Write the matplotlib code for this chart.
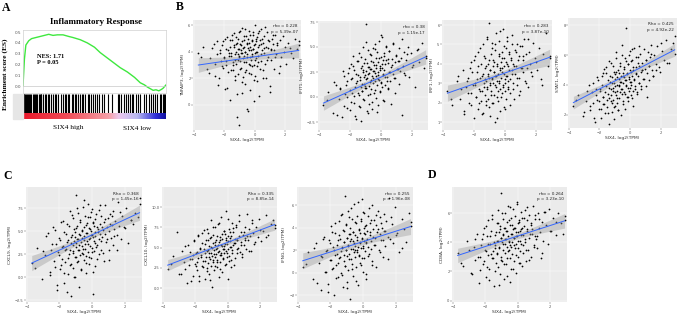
import numpy as np
import matplotlib
matplotlib.use("Agg")
import matplotlib.pyplot as plt
from matplotlib.colors import LinearSegmentedColormap

W, H = 680, 314
fig = plt.figure(figsize=(W / 100, H / 100), dpi=100)

SERIF = ["Liberation Serif", "DejaVu Serif"]

# ---------------- Panel A data (GSEA) ----------------
gsea_rank = [0, 0.01, 0.02, 0.04, 0.06, 0.09, 0.12, 0.15, 0.18, 0.21, 0.24, 0.28, 0.32,
             0.35, 0.40, 0.45, 0.50, 0.54, 0.58, 0.63, 0.68, 0.73, 0.78, 0.82, 0.85,
             0.87, 0.89, 0.91, 0.93, 0.95, 0.97, 0.98, 1.0]
gsea_es = [0, 0.25, 0.38, 0.42, 0.44, 0.45, 0.46, 0.47, 0.48, 0.47, 0.475, 0.475, 0.46,
           0.45, 0.43, 0.40, 0.36, 0.31, 0.27, 0.22, 0.17, 0.13, 0.08, 0.03, 0.01,
           -0.01, -0.025, -0.04, -0.035, -0.045, -0.03, -0.02, 0.01]
gsea_hits = [0.0, 0.005, 0.01, 0.015, 0.02, 0.028, 0.035, 0.045, 0.05, 0.064, 0.07, 0.076,
             0.088, 0.095, 0.104, 0.111, 0.118, 0.125, 0.135, 0.147, 0.159, 0.17, 0.18,
             0.19, 0.206, 0.218, 0.23, 0.242, 0.26, 0.277, 0.289, 0.30, 0.313, 0.32,
             0.336, 0.345, 0.36, 0.37, 0.379, 0.396, 0.408, 0.42, 0.431, 0.45, 0.46,
             0.474, 0.49, 0.5, 0.514, 0.53, 0.55, 0.562, 0.592, 0.62, 0.661, 0.67,
             0.687, 0.704, 0.72, 0.73, 0.744, 0.763, 0.77, 0.787, 0.8, 0.815, 0.846,
             0.86, 0.882, 0.895, 0.91, 0.925, 0.94, 0.957, 0.965, 0.976, 0.985, 0.995]
gsea_yticks = [0.0, 0.1, 0.2, 0.3, 0.4, 0.5]
gsea_title = "Inflammatory Response"
gsea_nes = "NES: 1.71"
gsea_p = "P = 0.05"

# ---------------- Scatter data (shared SIX4 x) ----------------
six4 = [-3.7, -3.4, -3.1, -2.9, -2.7, -2.6, -2.5, -2.4, -2.3, -2.2,
        -2.15, -2.1, -2.0, -1.95, -1.9, -1.85, -1.8, -1.75, -1.7, -1.65,
        -1.6, -1.55, -1.5, -1.45, -1.4, -1.38, -1.35, -1.3, -1.27, -1.25,
        -1.2, -1.18, -1.15, -1.12, -1.1, -1.07, -1.05, -1.02, -1.0, -0.98,
        -0.95, -0.93, -0.9, -0.88, -0.85, -0.83, -0.8, -0.78, -0.75, -0.73,
        -0.7, -0.68, -0.65, -0.63, -0.6, -0.58, -0.55, -0.53, -0.5, -0.48,
        -0.45, -0.43, -0.4, -0.38, -0.35, -0.33, -0.3, -0.28, -0.25, -0.22,
        -0.2, -0.17, -0.15, -0.12, -0.1, -0.07, -0.05, -0.02, 0.0, 0.03,
        0.05, 0.08, 0.1, 0.13, 0.15, 0.18, 0.2, 0.25, 0.3, 0.35,
        0.4, 0.45, 0.5, 0.55, 0.6, 0.7, 0.8, 0.9, 1.0, 1.1,
        1.2, 1.35, 1.5, 1.7, 2.0, 2.4, 2.9,
        -3.5, -3.0, -2.8, -2.6, -2.45, -2.35, -2.25, -2.15, -2.05, -1.98,
        -1.92, -1.86, -1.8, -1.74, -1.68, -1.62, -1.57, -1.52, -1.47, -1.42,
        -1.37, -1.32, -1.28, -1.24, -1.2, -1.16, -1.12, -1.08, -1.04, -1.0,
        -0.96, -0.92, -0.88, -0.84, -0.8, -0.76, -0.72, -0.68, -0.64, -0.6,
        -0.56, -0.52, -0.48, -0.44, -0.4, -0.36, -0.32, -0.28, -0.24, -0.2,
        -0.16, -0.12, -0.08, -0.04, 0.0, 0.04, 0.08, 0.12, 0.16, 0.2,
        0.24, 0.28, 0.32, 0.36, 0.4, 0.44, 0.48, 0.52, 0.56, 0.6,
        0.64, 0.68, 0.72, 0.76, 0.8, 0.85, 0.9, 0.95, 1.0, 1.05,
        1.1, 1.15, 1.2, 1.25, 1.3, 1.36, 1.42, 1.5, 1.58, 1.66,
        1.75, 1.85, 1.95, 2.05, 2.2, 2.35, 2.5, 2.65, 2.8, 2.9]

tnfaip3 = [3.9, 4.4, 2.7, 3.5, 4.6, 2.2, 3.8, 1.5, 4.1, 3.3,
           2.9, 4.8, 3.6, 1.2, 4.2, 3.0, 5.1, 2.5, 3.9, 4.4,
           0.4, 3.7, 4.9, 3.2, 2.6, 4.5, 5.4, 3.4, 1.9, 4.0,
           3.1, 4.7, -0.9, 3.8, 5.0, 2.3, 4.2, 3.6, -1.5, 4.6,
           3.3, 5.6, 2.8, 4.1, 3.9, 0.9, 4.8, 3.5, 2.1, 5.2,
           3.7, 4.4, 1.6, 4.0, 5.7, 3.2, 2.6, 4.6, 3.8, -0.3,
           4.3, 5.0, 3.1, 2.4, 4.7, 3.6, 5.3, 1.1, 4.1, 3.4,
           4.9, 2.9, 3.7, 5.5, 4.2, 0.3, 3.0, 4.5, 6.0, 3.9,
           2.2, 4.8, 3.5, 5.1, 4.0, 1.8, 4.4, 3.2, 5.6, 2.7,
           4.6, 3.8, 5.0, 2.0, 4.3, 5.9, 3.4, 4.9, 1.4, 4.1,
           5.3, 3.6, 4.7, 2.9, 4.4, 3.9, 4.5,
           3.6, 2.4, 4.3, 3.1, 4.8, 2.0, 3.9, 4.5, 2.8, 3.5,
           5.0, 3.3, 1.3, 4.1, 3.7, 4.9, 2.6, 3.9, 5.3, 3.0,
           4.4, 2.2, 3.8, 5.1, 4.6, 0.8, 3.4, 4.2, 5.5, 3.7,
           2.7, 4.5, 3.9, 5.8, 1.7, 4.3, 3.2, 4.9, 4.0, 2.5,
           5.2, 3.6, 4.7, -0.5, 4.1, 5.6, 3.0, 4.4, 2.3, 4.8,
           3.8, 5.3, 4.2, 1.9, 4.6, 3.4, 5.0, 4.0, 2.9, 5.4,
           3.7, 4.5, 0.7, 4.9, 3.3, 5.7, 4.1, 2.6, 4.7, 3.9,
           5.2, 3.1, 4.4, 2.0, 5.5, 4.3, 3.6, 4.8, 1.0, 4.2,
           3.4, 5.0, 4.6, 2.7, 4.1, 5.3, 3.8, 4.5, 2.4, 4.9,
           3.6, 5.2, 4.0, 3.1, 4.7, 4.3, 3.5, 5.0, 4.2, 4.8]
ifit1 = [-0.8, 0.5, -1.6, 1.2, -0.2, 0.9, -2.0, 2.1, 0.3, 1.6,
         -1.1, 2.4, 0.7, 3.3, -0.5, 1.9, 4.1, 0.1, 2.7, -1.9,
         1.4, 3.6, 0.4, 2.2, -0.9, 4.4, 1.7, 2.9, -2.4, 1.0,
         3.1, 0.6, 2.5, 5.0, 1.3, -0.3, 2.0, 3.8, 0.9, 7.3,
         1.8, 2.6, -1.4, 3.4, 0.2, 4.7, 2.3, 1.1, 3.0, -0.7,
         2.8, 1.5, 4.2, 0.8, 3.6, 2.1, -1.2, 4.9, 1.9, 2.6,
         0.4, 3.2, 5.3, 1.6, 2.4, -0.1, 3.9, 2.9, 1.2, 4.5,
         2.2, -0.8, 3.5, 1.7, 5.6, 2.7, 0.6, 3.1, 4.0, 1.4,
         2.9, 6.0, 1.0, 3.7, 2.3, -0.4, 4.4, 2.0, 3.3, 5.1,
         1.6, 3.8, 0.9, 4.6, 2.5, 3.2, 5.4, 1.9, 4.1, 2.8,
         3.6, 5.8, 2.4, 4.3, 3.0, 4.8, 3.9,
         -0.3, 1.5, -1.8, 0.8, 2.6, -0.9, 1.2, 0.0, 2.9, -1.3,
         1.8, 0.4, 3.1, -0.6, 1.0, 2.3, -2.2, 1.6, 3.6, 0.2,
         2.0, -1.0, 4.0, 1.3, 0.6, 2.7, -0.2, 3.4, 1.1, 2.2,
         5.5, 0.9, 1.9, -1.6, 3.0, 2.4, 0.3, 4.3, 1.7, 2.8,
         -0.5, 3.5, 1.4, 2.6, 4.8, 0.7, 2.1, 3.2, -1.5, 2.5,
         1.8, 3.9, 0.5, 2.9, 6.2, 1.5, 3.3, 2.2, -0.3, 4.1,
         2.7, 1.2, 3.7, 5.0, 2.0, 0.8, 3.4, 2.5, 4.6, 1.6,
         3.0, -0.7, 3.8, 2.3, 5.3, 1.9, 3.5, 0.4, 4.2, 2.8,
         3.6, 1.3, 4.9, 2.6, 3.9, -1.8, 3.1, 4.5, 2.2, 3.7,
         5.0, 2.0, 4.4, 3.2, 1.0, 4.7, 3.5, 5.4, 2.9, 4.1]
irf1 = [2.6, 1.9, 3.1, 2.2, 3.7, 1.4, 2.8, 3.3, 2.0, 4.1,
        2.5, 3.6, 1.2, 2.9, 4.4, 2.3, 3.2, 1.7, 3.9, 2.7,
        4.8, 2.1, 3.4, 2.6, 5.0, 1.5, 3.0, 3.8, 2.4, 4.3,
        3.1, 1.9, 5.3, 2.8, 3.5, 4.0, 2.2, 3.3, 6.1, 2.9,
        3.7, 1.3, 4.5, 2.6, 3.2, 5.1, 2.0, 3.9, 3.0, 4.2,
        2.4, 3.6, 1.0, 4.7, 3.4, 2.8, 5.6, 3.1, 2.3, 4.0,
        3.5, 2.1, 4.4, 3.0, 5.2, 2.7, 3.8, 1.6, 4.1, 3.3,
        2.5, 4.6, 3.6, 5.8, 2.9, 3.9, 1.8, 4.3, 3.2, 2.6,
        4.8, 3.4, 2.2, 4.0, 5.4, 3.1, 2.8, 4.5, 3.7, 1.9,
        4.2, 3.5, 5.0, 2.7, 3.9, 4.6, 3.3, 2.4, 4.9, 3.8,
        4.4, 3.0, 5.3, 3.6, 4.1, 2.9, 4.3,
        2.2, 3.4, 2.7, 1.6, 3.1, 2.5, 3.8, 1.9, 2.9, 4.2,
        3.0, 2.3, 3.6, 4.6, 2.0, 3.3, 2.6, 4.0, 1.4, 3.5,
        2.8, 4.4, 3.2, 2.1, 3.9, 5.4, 2.7, 3.4, 1.8, 4.2,
        3.0, 3.7, 2.4, 4.8, 3.3, 2.0, 4.1, 3.6, 2.9, 5.0,
        3.4, 1.2, 3.9, 2.6, 4.5, 3.1, 3.7, 5.7, 2.3, 3.8,
        4.3, 2.8, 3.5, 4.9, 3.0, 1.7, 4.1, 3.4, 5.2, 2.7,
        3.9, 4.6, 3.2, 2.5, 4.3, 3.7, 5.5, 3.0, 4.0, 2.2,
        4.7, 3.5, 3.9, 2.9, 5.0, 4.2, 3.3, 4.4, 2.6, 3.8,
        4.9, 3.6, 4.2, 5.3, 3.1, 4.5, 3.8, 2.8, 4.6, 4.0,
        3.4, 5.1, 4.3, 3.7, 4.8, 3.2, 4.5, 5.6, 3.9, 4.4]
stat1 = [2.6, 3.3, 1.9, 2.9, 4.0, 2.3, 3.5, 2.8, 1.5, 3.7,
         3.0, 4.3, 2.4, 3.6, 1.8, 4.6, 2.7, 3.2, 5.1, 2.1,
         3.9, 4.8, 2.5, 3.4, 5.6, 1.4, 3.1, 4.2, 2.9, 3.7,
         4.5, 2.2, 3.8, 5.3, 3.0, 4.1, 1.7, 4.7, 3.5, 2.6,
         4.9, 3.3, 6.2, 2.8, 4.0, 3.6, 5.0, 2.3, 4.4, 3.9,
         3.1, 5.5, 4.2, 2.0, 4.6, 3.7, 6.7, 3.4, 4.8, 2.7,
         4.1, 5.2, 3.5, 4.5, 2.4, 5.8, 3.9, 4.3, 7.8, 3.2,
         4.7, 3.8, 5.4, 2.9, 4.4, 6.0, 3.6, 5.0, 4.2, 3.3,
         5.6, 4.0, 3.1, 6.4, 4.6, 2.6, 5.2, 4.3, 3.7, 5.9,
         4.8, 3.5, 5.5, 4.1, 6.6, 3.9, 5.0, 4.4, 5.7, 3.2,
         5.3, 6.1, 4.6, 5.0, 6.8, 5.5, 7.3,
         3.0, 2.2, 3.6, 2.6, 4.1, 1.8, 3.3, 4.5, 2.9, 3.7,
         2.4, 4.0, 3.2, 4.8, 2.7, 3.5, 5.2, 3.0, 4.3, 2.1,
         3.8, 4.6, 3.3, 5.5, 2.8, 4.1, 3.6, 4.9, 2.5, 4.4,
         3.9, 5.8, 3.1, 4.5, 2.3, 4.8, 4.0, 5.3, 3.5, 4.2,
         6.0, 3.7, 4.6, 2.9, 5.1, 4.3, 3.4, 5.6, 4.0, 4.8,
         3.2, 5.4, 4.5, 6.3, 3.8, 4.9, 4.2, 5.7, 3.6, 5.0,
         4.4, 6.5, 3.9, 5.2, 4.7, 3.4, 5.9, 4.6, 5.3, 4.1,
         6.1, 4.9, 3.7, 5.5, 5.0, 4.4, 6.4, 5.1, 3.9, 5.7,
         4.8, 6.2, 5.3, 4.3, 5.9, 6.7, 5.0, 4.6, 6.0, 5.4,
         6.6, 5.2, 4.9, 6.3, 5.7, 7.0, 5.5, 6.4, 6.8, 6.1]
cxcl9 = [1.5, 3.2, -0.2, 2.4, 4.8, 0.6, 2.9, 5.5, 1.1, 3.6,
         -1.4, 2.7, 4.3, 0.9, 6.0, 2.0, 3.4, -0.6, 4.9, 1.7,
         3.1, 5.8, 0.3, 4.0, 2.5, 7.2, 1.3, 3.7, -2.0, 4.6,
         2.8, 6.4, 1.0, 3.9, 5.2, 0.0, 4.4, 2.2, 8.9, 3.3,
         5.6, 1.6, 4.1, 2.9, 7.0, 3.5, -1.1, 4.7, 2.4, 6.2,
         3.8, 0.8, 5.0, 4.3, 2.6, 7.6, 3.1, 4.5, 1.9, 5.4,
         3.6, 6.7, 2.3, 4.8, 0.4, 5.9, 3.9, 2.7, 8.0, 4.2,
         1.4, 5.3, 3.4, 6.5, 4.6, 2.1, 5.0, 3.2, 7.4, -1.8,
         4.4, 6.0, 2.8, 5.6, 3.7, 1.2, 4.9, 6.9, 3.5, 5.2,
         2.5, 4.7, 7.8, 3.9, 5.5, 1.8, 6.3, 4.1, 3.0, 5.8,
         6.6, 4.5, 2.9, 7.1, 5.3, 6.2, 7.9,
         1.0, 2.8, 4.5, 0.2, 3.6, 1.8, 5.1, -0.8, 2.4, 4.0,
         1.3, 3.3, 6.1, 0.5, 2.9, 4.7, -1.6, 3.8, 2.1, 5.6,
         3.0, 1.4, 4.4, 6.8, 2.6, 3.5, 0.0, 4.9, 2.2, 5.3,
         3.7, 7.5, 1.8, 4.2, 2.9, 6.0, 4.6, 0.9, 3.4, 5.1,
         2.5, 8.4, 4.0, 3.1, 5.7, 1.5, 4.8, 6.5, 3.6, 2.2,
         5.2, 4.3, 7.1, 2.7, 4.6, 0.6, 5.9, 3.9, 4.5, 6.3,
         3.3, 5.5, 2.0, 4.9, 7.3, 4.1, 5.8, 3.0, 6.6, 4.4,
         5.1, 2.6, 6.0, 4.7, 7.8, 3.8, 5.4, 6.4, 1.9, 5.0,
         6.9, 4.3, 5.7, 3.5, 7.2, 5.2, 6.1, 4.6, 8.2, 5.6,
         4.1, 6.7, 5.4, 7.5, 3.7, 6.2, 5.8, 7.0, 6.5, 8.6]
cxcl10 = [2.4, 4.0, 6.9, 1.8, 3.3, 5.2, 0.7, 2.9, 4.5, 3.6,
          1.5, 5.8, 3.0, 4.3, 2.2, 6.4, 3.7, 0.9, 5.0, 4.1,
          2.7, 6.8, 3.4, 4.9, 1.2, 5.5, 3.9, 7.3, 2.5, 4.6,
          5.9, 3.1, 1.7, 4.4, 6.2, 3.6, 8.4, 2.8, 5.1, 4.0,
          0.2, 5.6, 3.3, 6.6, 4.7, 2.3, 5.3, 7.6, 3.8, 4.2,
          6.0, 2.6, 5.0, 3.5, 7.9, 4.5, 1.4, 5.7, 4.1, 6.3,
          3.2, 5.4, 8.8, 4.4, 2.0, 6.1, 4.8, 3.6, 7.1, 5.2,
          4.3, 6.7, 2.9, 5.9, 4.6, 9.5, 3.9, 5.5, 1.1, 6.4,
          4.9, 7.3, 3.4, 5.8, 6.2, 2.6, 5.1, 8.1, 4.4, 6.9,
          5.6, 3.7, 7.5, 4.8, 6.0, 9.0, 5.3, 4.2, 7.0, 5.9,
          6.5, 4.6, 8.4, 5.7, 7.2, 6.3, 7.8,
          3.0, 1.8, 4.6, 2.4, 5.3, 3.6, 0.9, 4.1, 6.0, 2.8,
          4.5, 3.2, 6.6, 1.5, 4.8, 3.9, 5.6, 2.6, 7.2, 4.3,
          3.4, 5.9, 2.1, 4.7, 6.8, 3.8, 5.2, 1.0, 4.4, 6.3,
          5.0, 3.5, 7.6, 4.2, 2.7, 5.7, 4.9, 6.4, 3.3, 5.4,
          8.0, 4.6, 2.4, 5.9, 4.1, 6.7, 5.2, 3.7, 7.1, 4.8,
          5.5, 3.0, 6.2, 4.4, 8.6, 5.8, 4.0, 6.9, 5.1, 3.5,
          6.5, 4.7, 7.4, 5.3, 2.9, 6.1, 5.6, 7.8, 4.3, 6.0,
          5.0, 8.3, 6.4, 4.5, 7.0, 5.7, 3.9, 6.6, 5.3, 7.5,
          6.2, 4.8, 9.2, 5.9, 7.3, 6.5, 4.6, 8.0, 6.8, 5.5,
          7.6, 6.3, 8.5, 5.8, 7.1, 9.0, 6.6, 7.9, 8.4, 7.4]
ifng = [0.5, 1.8, -0.6, 2.6, 0.9, -1.5, 1.4, 3.2, 0.1, 2.0,
        -1.0, 2.9, 1.1, 4.1, 0.3, 2.3, -2.0, 1.6, 3.5, 0.7,
        2.5, -0.4, 4.6, 1.3, 3.0, 0.0, 1.9, 5.2, 2.2, -1.3,
        3.7, 1.0, 2.7, 6.8, 0.6, 2.0, 4.3, -0.8, 3.1, 1.5,
        2.4, 5.5, 0.2, 3.4, 1.7, -2.3, 2.8, 4.0, 1.2, 3.0,
        0.8, 4.8, 2.1, 3.6, -0.3, 2.6, 6.1, 1.4, 3.3, 2.0,
        4.4, 0.5, 2.9, 1.8, 5.0, 2.3, -1.1, 3.8, 1.6, 2.7,
        3.5, 0.9, 4.6, 2.2, 6.5, 1.3, 3.1, 2.4, 0.1, 4.0,
        2.8, 5.3, 1.9, 3.4, -0.6, 2.6, 4.2, 3.0, 1.5, 5.7,
        3.6, 2.1, 4.7, 0.7, 3.2, 2.5, 5.1, 3.9, 1.8, 4.4,
        2.9, 3.7, 1.2, 4.9, 3.3, 2.2, 4.1,
        0.8, 2.2, -0.9, 1.5, 3.0, 0.1, 1.9, -1.7, 2.6, 1.1,
        3.6, 0.4, 2.0, 4.4, -0.5, 1.7, 2.9, 0.9, 3.3, 1.4,
        5.1, 2.3, -0.2, 3.8, 1.6, 2.7, 0.6, 4.2, 2.0, 3.1,
        -1.4, 2.5, 4.9, 1.2, 3.4, 2.1, 5.7, 0.3, 2.8, 3.6,
        1.8, 4.5, 2.4, -0.7, 3.2, 2.0, 6.3, 1.5, 3.9, 2.6,
        4.8, 0.7, 3.0, 2.2, 5.4, 3.5, 1.3, 4.1, 2.7, -0.1,
        3.7, 2.3, 5.0, 1.7, 3.3, 4.4, 2.8, 6.0, 1.0, 3.9,
        2.5, 4.7, 3.1, 0.5, 4.2, 3.6, 5.5, 2.0, 3.4, 4.9,
        2.9, 4.0, 1.4, 5.2, 3.7, 2.4, 4.6, 3.2, 6.6, 3.0,
        4.3, 2.6, 5.8, 3.5, 1.8, 4.8, 3.9, 2.7, 5.3, 4.5]
cd8a = [3.3, 2.4, 4.1, 1.9, 3.7, 2.8, 4.6, 1.2, 3.0, 4.2,
        2.5, 5.0, 3.5, 1.6, 4.4, 3.1, 5.5, 2.2, 3.9, 4.8,
        2.9, 5.9, 3.4, 1.0, 4.5, 3.8, 2.6, 5.3, 4.1, 3.2,
        6.2, 2.3, 4.7, 3.6, 5.1, 1.8, 4.3, 3.0, 7.4, 4.0,
        2.7, 5.6, 3.9, 4.6, 1.5, 5.0, 3.3, 4.2, 6.0, 2.5,
        4.8, 3.7, 5.4, 2.9, 4.4, 6.5, 3.5, 4.1, 1.3, 5.2,
        3.8, 4.6, 2.2, 5.7, 4.0, 3.2, 6.3, 4.9, 2.7, 5.0,
        4.3, 3.6, 5.8, 1.9, 4.7, 3.9, 6.6, 4.4, 3.0, 5.3,
        4.1, 2.6, 5.5, 4.8, 3.4, 6.1, 4.5, 2.4, 5.0, 3.8,
        5.7, 4.2, 3.5, 6.4, 4.9, 2.8, 5.2, 4.6, 3.7, 5.9,
        4.4, 5.6, 3.3, 6.1, 4.8, 5.4, 5.5,
        2.6, 3.5, 1.8, 4.2, 3.0, 2.1, 3.8, 4.6, 2.7, 3.4,
        5.1, 2.3, 3.9, 1.4, 4.4, 3.2, 5.6, 2.9, 4.0, 3.6,
        2.0, 4.7, 3.3, 5.3, 4.1, 1.1, 3.7, 4.9, 2.8, 4.3,
        6.0, 3.5, 4.5, 2.5, 5.0, 3.9, 4.2, 1.7, 4.8, 3.4,
        5.5, 4.0, 2.9, 6.4, 3.7, 4.6, 5.2, 2.2, 4.3, 3.8,
        5.0, 4.4, 3.1, 6.8, 4.7, 3.6, 5.4, 4.1, 2.6, 4.9,
        3.9, 5.7, 4.5, 3.3, 5.1, 4.0, 6.2, 2.7, 4.8, 5.5,
        3.5, 4.3, 5.9, 4.6, 3.0, 5.3, 4.9, 6.5, 3.8, 4.4,
        5.6, 4.2, 3.6, 6.0, 5.0, 4.7, 2.9, 5.4, 4.1, 6.1,
        5.2, 3.9, 6.3, 4.8, 5.7, 4.5, 6.0, 5.3, 4.6, 5.8]

gene_names = ["TNFAIP3", "IFIT1", "IRF1", "STAT1", "CXCL9", "CXCL10", "IFNG", "CD8A"]
gene_values = [tnfaip3, ifit1, irf1, stat1, cxcl9, cxcl10, ifng, cd8a]
rho_labels = ["rho", "rho", "rho", "Rho", "Rho", "Rho", "rho", "rho"]
rho_values = ["0.228", "0.38", "0.283", "0.425", "0.368", "0.335", "0.255", "0.264"]
p_values = ["5.39e-07", "1.15e-17", "3.87e-10", "4.92e-22", "1.45e-16", "8.85e-14",
            "1.96e-08", "3.23e-10"]
fit_intercepts = [3.62, 1.98, 3.53, 4.80, 4.60, 5.66, 2.76, 4.43]
fit_slopes = [0.167, 0.70, 0.28, 0.534, 0.83, 0.76, 0.46, 0.36]
x_ticks = [-4, -2, 0, 2]
y_ticks_list = [[0, 2, 4, 6], [-2.5, 0.0, 2.5, 5.0, 7.5], [1, 2, 3, 4, 5, 6], [2, 4, 6, 8],
                [-2.5, 0.0, 2.5, 5.0, 7.5], [0.0, 2.5, 5.0, 7.5, 10.0], [-2, 0, 2, 4, 6],
                [0, 2, 4, 6]]
y_limits = [(-1.9, 6.4), (-3.3, 7.6), (0.6, 6.26), (1.13, 8.47), (-2.7, 9.8), (-1.7, 12.5),
            (-2.6, 7.6), (-0.1, 7.8)]
n_samples = 160


def px_axes(l, t, r, b):
    return fig.add_axes([l / W, 1 - b / H, (r - l) / W, (b - t) / H])


def ftext(x, y, s, **kw):
    fig.text(x / W, 1 - y / H, s, **kw)


# ---------------- Panel A ----------------
ftext(2, 2, "A", fontsize=8.5, fontweight="bold", family=SERIF, va="top", ha="left")
ftext(96, 22, gsea_title, fontsize=6.5, fontweight="bold", family=SERIF, va="center", ha="center")
ftext(5, 74, "Enrichment score (ES)", fontsize=5.3, fontweight="bold", family=SERIF,
      rotation=90, va="center", ha="center")

fig.patches.append(plt.Rectangle((13 / W, 1 - 119 / H), 10 / W, 25 / H,
                                 transform=fig.transFigure, color="#e6e6e6", zorder=0))

axA = px_axes(23, 30, 166, 93)
axA.plot(gsea_rank, gsea_es, color="#3fe83f", lw=1.0)
axA.axhline(0, color="#c8c8c8", lw=0.5)
axA.set_xlim(0, 1)
axA.set_ylim(-0.065, 0.52)
axA.set_xticks([])
axA.set_yticks(gsea_yticks)
axA.set_yticklabels([f"{v:.1f}" for v in gsea_yticks])
axA.tick_params(axis="y", labelsize=3, length=0, pad=1.5, colors="#555555")
for s in axA.spines.values():
    s.set_color("#d0d0d0")
    s.set_linewidth(0.5)
axA.text(0.1, 0.62, gsea_nes + "\n" + gsea_p, transform=axA.transAxes, fontsize=4.6,
         fontweight="bold", family=SERIF, va="top", ha="left", linespacing=1.3)

axBar = px_axes(23, 94, 166, 113)
axBar.vlines(gsea_hits, 0, 1, color="black", lw=0.8)
axBar.set_xlim(-0.005, 1.0)
axBar.set_ylim(0, 1)
axBar.axis("off")

axGrad = px_axes(23, 113, 166, 119)
cmap = LinearSegmentedColormap.from_list(
    "rb", [(0.0, "#e8182a"), (0.3, "#ef4a55"), (0.6, "#f5a0a8"), (0.67, "#ecc8ec"),
           (0.8, "#b8b8f0"), (0.93, "#3030d8"), (1.0, "#1010a0")])
axGrad.imshow(np.linspace(0, 1, 256)[None, :], aspect="auto", cmap=cmap, extent=(0, 1, 0, 1))
axGrad.axis("off")

ftext(68, 128, "SIX4 high", fontsize=5.2, family=SERIF, va="center", ha="center")
ftext(137, 128, "SIX4 low", fontsize=5.2, family=SERIF, va="center", ha="center")

# ---------------- Scatter panels ----------------
panel_boxes = [(193, 20, 301, 130), (318, 21, 428, 130), (442, 20, 552, 130), (568, 18, 677, 128),
               (26, 187, 142, 302), (162, 187, 277, 302), (297, 187, 413, 302), (452, 187, 567, 302)]

x = np.array(six4)
for i, box in enumerate(panel_boxes):
    ax = px_axes(*box)
    y = np.array(gene_values[i])
    ax.set_facecolor("#EBEBEB")
    ax.grid(True, color="white", lw=0.35)
    ax.set_axisbelow(True)
    for s in ax.spines.values():
        s.set_visible(False)
    ax.scatter(x, y, s=1.6, color="black", linewidths=0, zorder=3)
    xs = np.linspace(x.min(), x.max(), 100)
    yfit = fit_intercepts[i] + fit_slopes[i] * xs
    resid = y - (fit_intercepts[i] + fit_slopes[i] * x)
    sd = resid.std()
    sxx = ((x - x.mean()) ** 2).sum() * n_samples / len(x)
    hw = 1.96 * sd * np.sqrt(1 / n_samples + (xs - x.mean()) ** 2 / sxx)
    ax.fill_between(xs, yfit - hw, yfit + hw, color="#999999", alpha=0.4, lw=0, zorder=4)
    ax.plot(xs, yfit, color="#3366FF", lw=0.7, zorder=5)
    ax.set_xlim(-4.05, 3.05)
    ax.set_ylim(*y_limits[i])
    ax.set_xticks(x_ticks)
    ax.set_yticks(y_ticks_list[i])
    ax.tick_params(labelsize=2.6, length=1.2, width=0.3, pad=0.6, colors="#555555",
                   labelcolor="#555555")
    ax.set_xlabel("SIX4, log2(TPM)", fontsize=3.2, labelpad=0.8, color="#333333")
    ax.set_ylabel(f"{gene_names[i]}, log2(TPM)", fontsize=3.2, labelpad=2.0, color="#333333")
    ax.text(0.97, 0.96, f"{rho_labels[i]} = {rho_values[i]}\np = {p_values[i]}",
            transform=ax.transAxes, fontsize=3.0, va="top", ha="right", color="#222222",
            linespacing=1.5)

ftext(176, 1, "B", fontsize=8.5, fontweight="bold", family=SERIF, va="top", ha="left")
ftext(3, 170, "C", fontsize=8.5, fontweight="bold", family=SERIF, va="top", ha="left")
ftext(428, 169, "D", fontsize=8.5, fontweight="bold", family=SERIF, va="top", ha="left")

fig.savefig("out.png", dpi=100, facecolor="white")
